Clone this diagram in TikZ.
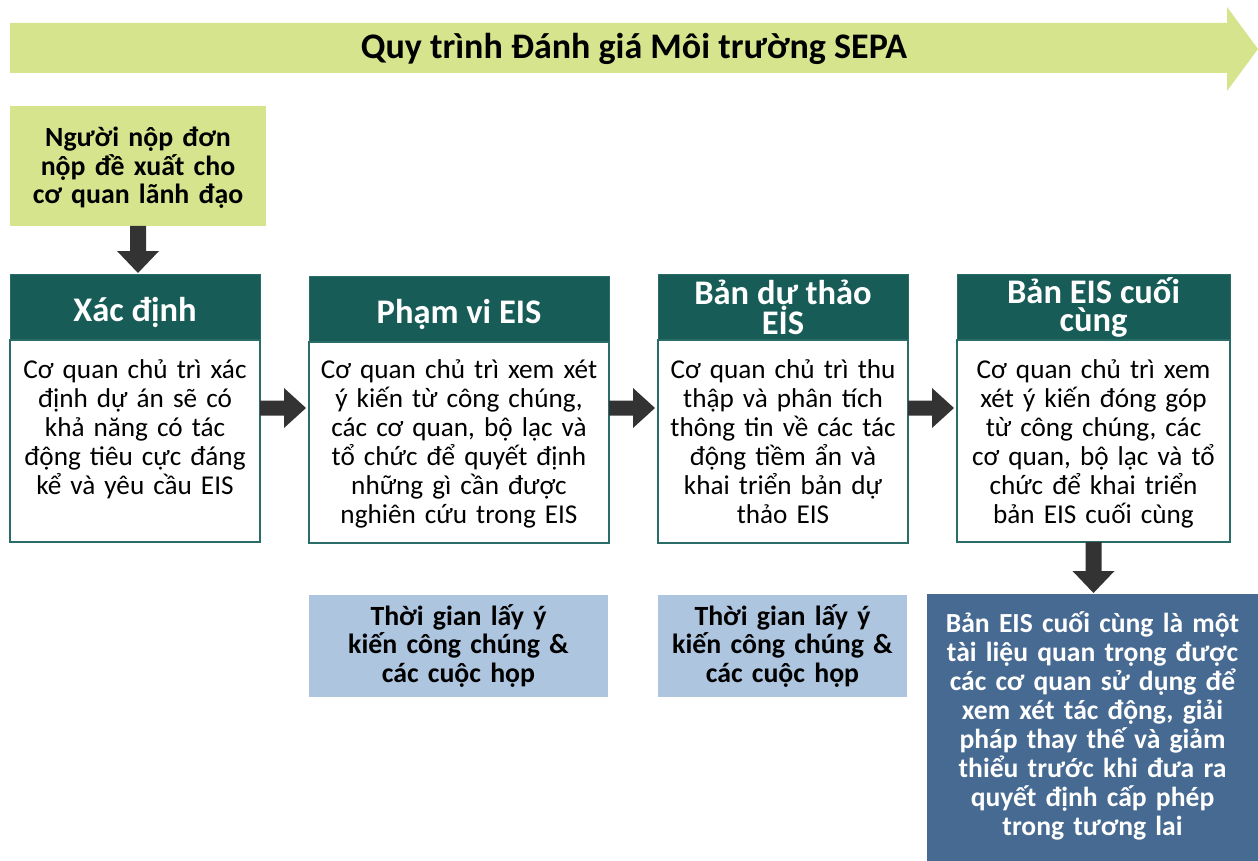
\documentclass[tikz,border=0pt]{standalone}
\usepackage{fontspec}
\setmainfont{Carlito}
\usetikzlibrary{calc}
\definecolor{lgreen}{HTML}{D6E48D}
\definecolor{teal1}{HTML}{175C57}
\definecolor{teal2}{HTML}{2A6D68}
\definecolor{lblue}{HTML}{AEC5E0}
\definecolor{dblue}{HTML}{466A91}
\definecolor{arrc}{HTML}{333333}
\newcommand\harrow[3]{%
  \coordinate (hs) at (#1.east |- #3);
  \coordinate (he) at ($(#2.west |- #3)+(-3,0)$);
  \fill[arrc] ($(hs)+(0,-7.5)$) -- ($(he)+(-22,-7.5)$) -- ($(he)+(-22,-20)$) -- (he)
    -- ($(he)+(-22,20)$) -- ($(he)+(-22,7.5)$) -- ($(hs)+(0,7.5)$) -- cycle;}
\newcommand\varrow[2]{%
  \coordinate (vs) at (#1.south);
  \coordinate (ve) at ($(#2.north -| vs)+(0,-1)$);
  \fill[arrc] ($(vs)+(-8,0)$) -- ($(ve)+(-8,-22)$) -- ($(ve)+(-21,-22)$) -- (ve)
    -- ($(ve)+(21,-22)$) -- ($(ve)+(8,-22)$) -- ($(vs)+(8,0)$) -- cycle;}
\begin{document}
\begin{tikzpicture}[x=1pt,y=-1pt,
  box/.style={inner sep=0pt, outer sep=0pt, anchor=north west},
  hdr/.style={box, fill=teal1, draw=teal2, line width=1pt, text=white,
    font=\fontsize{34.5}{28}\selectfont\bfseries, align=center},
  hdrtext/.style={inner sep=0pt, anchor=base, text=white,
    font=\fontsize{34.5}{28}\selectfont\bfseries},
  bodybox/.style={box, fill=white, draw=teal2, line width=1.5pt},
  bodytext/.style={inner sep=0pt, anchor=base, align=center,
    font=\fontsize{27.2}{29}\selectfont},
  boldtext/.style={inner sep=0pt, anchor=base, align=center,
    font=\fontsize{27.8}{28.5}\selectfont\bfseries},
]
\useasboundingbox (0,0) rectangle (1258,861);
\fill[white] (0,0) rectangle (1258,861);
% title arrow
\fill[lgreen] (10,23) -- (1227,23) -- (1227,7) -- (1258,49) -- (1227,91) -- (1227,73) -- (10,73) -- cycle;
\node[inner sep=0pt, anchor=base, font=\fontsize{36}{36}\selectfont\bfseries] (title) at (634,59) {Quy trình Đánh giá Môi trường SEPA};
% applicant
\node[box, fill=lgreen, minimum width=256pt, minimum height=120pt] (app) at (10,106) {};
\node[boldtext, text width=256pt] (appt) at ($(app.north)+(0,41)$) {Người nộp đơn\\nộp đề xuất cho\\cơ quan lãnh đạo};
% step boxes
\node[hdr, minimum width=250pt, minimum height=66pt] (h1) at (10,274) {};
\node[hdrtext] (h1t) at ($(h1.north)+(0,47)$) {Xác định};
\node[bodybox, minimum width=250pt, minimum height=202pt] (b1) at (10,340) {};
\node[hdr, minimum width=300pt, minimum height=66pt] (h2) at (309,276) {};
\node[hdrtext] (h2t) at ($(h2.north)+(0,47)$) {Phạm vi EIS};
\node[bodybox, minimum width=300pt, minimum height=201pt] (b2) at (309,342) {};
\node[hdr, minimum width=250pt, minimum height=66pt] (h3) at (658,274) {Bản dự thảo\\EIS};
\node[bodybox, minimum width=250pt, minimum height=203pt] (b3) at (658,340) {};
\node[hdr, minimum width=273pt, minimum height=66pt] (h4) at (957,274) {Bản EIS cuối\\cùng};
\node[bodybox, minimum width=273pt, minimum height=202pt] (b4) at (957,340) {};
\node[bodytext, text width=250pt] (t1) at ($(b1.north)+(0,38)$) {Cơ quan chủ trì xác\\định dự án sẽ có\\khả năng có tác\\động tiêu cực đáng\\kể và yêu cầu EIS};
\node[bodytext, text width=300pt] (t2) at ($(b2.north)+(0,36)$) {Cơ quan chủ trì xem xét\\ý kiến từ công chúng,\\các cơ quan, bộ lạc và\\tổ chức để quyết định\\những gì cần được\\nghiên cứu trong EIS};
\node[bodytext, text width=250pt] (t3) at ($(b3.north)+(0,38)$) {Cơ quan chủ trì thu\\thập và phân tích\\thông tin về các tác\\động tiềm ẩn và\\khai triển bản dự\\thảo EIS};
\node[bodytext, text width=273pt] (t4) at ($(b4.north)+(0,38)$) {Cơ quan chủ trì xem\\xét ý kiến đóng góp\\từ công chúng, các\\cơ quan, bộ lạc và tổ\\chức để khai triển\\bản EIS cuối cùng};
% public comment boxes
\node[box, fill=lblue, minimum width=299pt, minimum height=102pt] (c2) at (309,595) {};
\node[boldtext, text width=299pt] (c2t) at ($(c2.north)+(0,30)$) {Thời gian lấy ý\\kiến công chúng \&\\các cuộc họp};
\node[box, fill=lblue, minimum width=249pt, minimum height=102pt] (c3) at (658,595) {};
\node[boldtext, text width=249pt] (c3t) at ($(c3.north)+(0,30)$) {Thời gian lấy ý\\kiến công chúng \&\\các cuộc họp};
% final note
\node[box, fill=dblue, minimum width=331pt, minimum height=267pt] (fin) at (927,594) {};
\node[boldtext, text width=331pt, text=white, font=\fontsize{27.6}{29}\selectfont\bfseries] (fint) at ($(fin.north)+(0,38)$) {Bản EIS cuối cùng là một\\tài liệu quan trọng được\\các cơ quan sử dụng để\\xem xét tác động, giải\\pháp thay thế và giảm\\thiểu trước khi đưa ra\\quyết định cấp phép\\trong tương lai};
% connectors
\coordinate (ay) at (0,408);
\varrow{app}{h1}
\harrow{b1}{b2}{ay}
\harrow{b2}{b3}{ay}
\harrow{b3}{b4}{ay}
\varrow{b4}{fin}
\end{tikzpicture}
\end{document}
